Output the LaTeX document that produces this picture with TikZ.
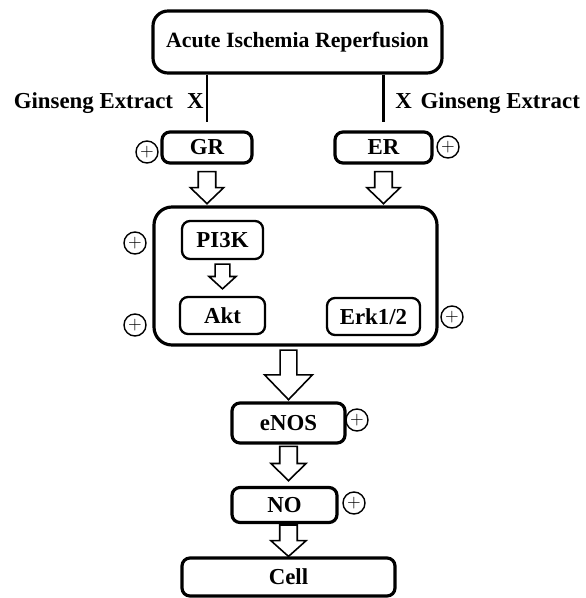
\documentclass[tikz,border=0pt]{standalone}
\usepackage{fontspec}
\setmainfont{Liberation Serif}
\usetikzlibrary{calc}
\tikzset{
    box/.style = {draw, rectangle, rounded corners=1.6mm,
        line width=1.8pt, inner sep=0pt,
        font=\bfseries\fontsize{13}{15}\selectfont},
    inbox/.style = {box, line width=1.3pt},
    pluscirc/.style = {draw, circle, line width=0.8pt,
        minimum size=4.4mm, inner sep=0pt},
    joinline/.style = {draw, line width=1.4pt},
    tag/.style = {inner sep=0pt, font=\bfseries\fontsize{13}{15}\selectfont},
    fat/.style 2 args = {draw, line width=0.9pt, line join=miter,
        to path={let \p1=(\tikztostart), \p2=(\tikztotarget) in
        (\x1-#1,\y1) -- (\x1+#1,\y1) -- (\x1+#1,{(\y1+\y2)/2})
        -- (\x1+#2,{(\y1+\y2)/2}) -- (\x1,\y2)
        -- (\x1-#2,{(\y1+\y2)/2}) -- (\x1-#1,{(\y1+\y2)/2}) -- cycle}}
}

\begin{document}
\begin{tikzpicture}[x=0.2mm, y=-0.2mm]
        \useasboundingbox (0,0) rectangle (585,598);
        % boxes
        \node[box, rounded corners=3mm, minimum width=57.8mm, minimum height=12.4mm,
            font=\bfseries\fontsize{12.4}{15}\selectfont] (air) at (297.5,42) {Acute Ischemia Reperfusion};
        \node[box, minimum width=18mm, minimum height=6.2mm] (gr) at (207,147.5) {GR};
        \node[box, minimum width=19.4mm, minimum height=6.2mm] (er) at (383.5,147.5) {ER};
        \node[box, rounded corners=3.6mm, minimum width=56.6mm, minimum height=27.6mm] (kin) at (295.5,276) {};
        \node[inbox, minimum width=16.2mm, minimum height=7.6mm] (pi3k) at (222.5,240) {PI3K};
        \node[inbox, minimum width=17mm, minimum height=7.4mm] (akt) at (222.5,315.5) {Akt};
        \node[inbox, minimum width=18.6mm, minimum height=7.4mm] (erk) at (373.5,316.5) {Erk1/2};
        \node[box, minimum width=22.6mm, minimum height=8mm] (enos) at (288.5,423) {eNOS};
        \node[box, minimum width=21mm, minimum height=7mm] (no) at (284.5,505) {NO};
        \node[box, minimum width=42.6mm, minimum height=7.6mm] (cell) at (288.5,577) {Cell};
        % extract labels
        \node[tag, anchor=east] (geleft) at (204,103) {Ginseng Extract\hspace{8pt}X};
        \node[tag, anchor=west] (geright) at (395,103) {X\hspace{5pt}Ginseng Extract};
        \draw[joinline] (air.south -| gr.north) -- ([yshift=5pt]gr.north);
        \draw[joinline] (air.south -| er.north) -- ([yshift=5pt]er.north);
        % hollow arrows
        \draw[fat={5pt}{9.5pt}] ([yshift=-4pt]gr.south) to ([yshift=1pt]kin.north -| gr.south);
        \draw[fat={5pt}{9.5pt}] ([yshift=-4pt]er.south) to ([yshift=1pt]kin.north -| er.south);
        \draw[fat={4.2pt}{7.7pt}] ([yshift=-2.3pt]pi3k.south) to ([yshift=4pt]akt.north);
        \draw[fat={4.8pt}{13.6pt}] ([yshift=-2pt]kin.south -| enos.north) to ([yshift=1pt]enos.north);
        \draw[fat={5pt}{10pt}] ([yshift=-1pt]enos.south) to ([yshift=3pt]no.north -| enos.south);
        \draw[fat={5pt}{10pt}] ([yshift=-0.5pt]no.south -| enos.south) to (cell.north -| enos.south);
        % plus signs
        \foreach \px/\py [count=\i] in {147/152, 448/147, 135/243, 135/325, 452/317, 357/420, 354/503}{
            \node[pluscirc] (plus\i) at (\px,\py) {$+$};
        }
\end{tikzpicture}
\end{document}
